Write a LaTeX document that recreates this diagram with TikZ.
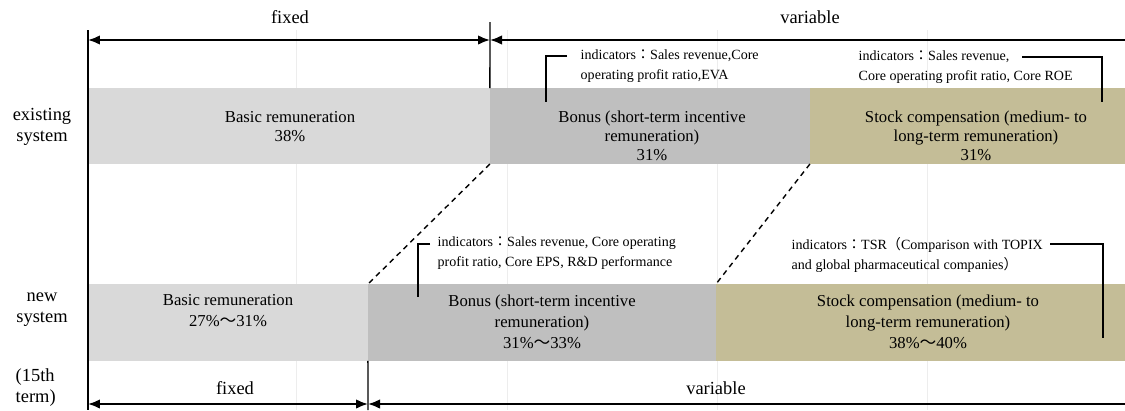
\documentclass[tikz,border=0pt]{standalone}
\usepackage{fontspec}
\setmainfont{Liberation Serif}
\newfontfamily\cjk{Noto Sans CJK JP}
\usepackage{tikz}
\usetikzlibrary{arrows.meta}
\definecolor{basgray}{HTML}{D9D9D9}
\definecolor{bongray}{HTML}{BFBFBF}
\definecolor{stotan}{HTML}{C4BD97}
\newcommand{\fw}[1]{{\cjk #1}}

\begin{document}
\begin{tikzpicture}[x=.02cm, y=-.02cm, line width=.8pt,
    bar/.style={anchor=north west, inner sep=0pt, outer sep=0pt},
    bartxt/.style={align=center, inner sep=0pt, font=\fontsize{9.5}{10.8}\selectfont},
    bartxtB/.style={align=center, inner sep=0pt, font=\fontsize{9.5}{12}\selectfont},
    indtxt/.style={anchor=west, align=left, inner sep=0pt, font=\fontsize{8}{11.4}\selectfont},
    rowtxt/.style={align=center, inner sep=0pt, font=\fontsize{10.5}{12}\selectfont},
    dimarrow/.style={{Latex[length=2.4mm,width=1.9mm]}-{Latex[length=2.4mm,width=1.9mm]}, line width=1pt}]
    \useasboundingbox (0,0) rectangle (1125,410);
    % Hilfslinien.
    \foreach \x in {296,507,717,927}
    {
        \draw[color=black!7, line width=.5pt] (\x,30) -- (\x,410);
    }

    % Balken.
    \node[bar, fill=basgray, minimum width=8.04cm, minimum height=1.52cm] (basA) at (88,88) {};
    \node[bar, fill=bongray, minimum width=6.4cm,  minimum height=1.52cm] (bonA) at (490,88) {};
    \node[bar, fill=stotan,  minimum width=6.62cm, minimum height=1.52cm] (stoA) at (810,88) {};
    \node[bar, fill=basgray, minimum width=5.6cm,  minimum height=1.54cm] (basB) at (88,284) {};
    \node[bar, fill=bongray, minimum width=6.96cm, minimum height=1.54cm] (bonB) at (368,284) {};
    \node[bar, fill=stotan,  minimum width=8.5cm,  minimum height=1.54cm] (stoB) at (716,284) {};

    % Linien.
    \coordinate (lt) at (88,30);
    \coordinate (lb) at (88,410);
    \coordinate (tA) at (490,22);
    \coordinate (tB) at (368,410);
    \draw (lt) -- (lb);
    \draw (tA) -- (basA.north east);
    \draw (basB.south east) -- (tB);
    \draw[dashed, dash pattern=on 3pt off 2.5pt] (basA.south east) -- (bonB.north west);
    \draw[dashed, dash pattern=on 3pt off 2.5pt] (bonA.south east) -- (stoB.north west);

    % Pfeile.
    \coordinate (fixA) at (88,40);
    \coordinate (sepA) at (490,40);
    \coordinate (varA) at (1141,40);
    \coordinate (fixB) at (88,404);
    \coordinate (sepB) at (368,404);
    \coordinate (varB) at (1141,404);
    \draw[dimarrow] (fixA) -- (sepA);
    \draw[dimarrow] (sepA) -- (varA);
    \draw[dimarrow] (fixB) -- (sepB);
    \draw[dimarrow] (sepB) -- (varB);

    % Klammern.
    \coordinate (cA1) at (567,56);
    \coordinate (cA2) at (546,102);
    \coordinate (cS1) at (1022,57);
    \coordinate (cS2) at (1102,102);
    \coordinate (cB1) at (430,244);
    \coordinate (cB2) at (418,297);
    \coordinate (cT1) at (1050,244);
    \coordinate (cT2) at (1103,338);
    \draw (cA1) -| (cA2);
    \draw (cS1) -| (cS2);
    \draw (cB1) -| (cB2);
    \draw (cT1) -| (cT2);

    % Beschriftung.
    \node[rowtxt] (fixAt) at (290,17) {fixed};
    \node[rowtxt] (varAt) at (810,17) {variable};
    \node[rowtxt] (fixBt) at (235,388) {fixed};
    \node[rowtxt] (varBt) at (716,388) {variable};

    \node[rowtxt] (exi) at (42,127) {existing\\system};
    \node[rowtxt] (new) at (42,310) {new\\system};
    \node[rowtxt, anchor=west, align=left] (term) at (15,388) {(15th\\term)};

    \node[bartxt] (basAt) at (290,127) {Basic remuneration\\38\%};
    \node[bartxt] (bonAt) at (652,136) {Bonus (short-term incentive\\remuneration)\\31\%};
    \node[bartxt] (stoAt) at (976,136) {Stock compensation (medium- to\\long-term remuneration)\\31\%};
    \node[bartxtB] (basBt) at (228,311) {Basic remuneration\\27\%\fw{～}31\%};
    \node[bartxtB] (bonBt) at (542,322) {Bonus (short-term incentive\\remuneration)\\31\%\fw{～}33\%};
    \node[bartxtB] (stoBt) at (928,322) {Stock compensation (medium- to\\long-term remuneration)\\38\%\fw{～}40\%};

    \node[indtxt] (indA) at (580,66) {indicators\fw{：}Sales revenue,Core\\operating profit ratio,EVA};
    \node[indtxt] (indS) at (858,67) {indicators\fw{：}Sales revenue,\\Core operating profit ratio, Core ROE};
    \node[indtxt] (indB) at (437,253) {indicators\fw{：}Sales revenue, Core operating\\profit ratio, Core EPS, R\&D performance};
    \node[indtxt] (indT) at (791,255) {indicators\fw{：}TSR\fw{（}Comparison with TOPIX\\and global pharmaceutical companies\fw{）}};
\end{tikzpicture}
\end{document}
